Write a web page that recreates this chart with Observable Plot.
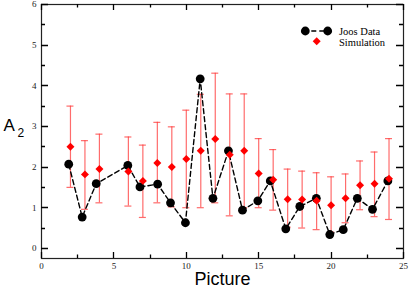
<!DOCTYPE html>
<html><head><meta charset="utf-8">
<script src="https://cdn.jsdelivr.net/npm/d3@7"></script>
<script src="https://cdn.jsdelivr.net/npm/@observablehq/plot@0.6"></script>
<style>html,body{margin:0;padding:0;background:#fff}svg{display:block}</style>
</head><body><div id="chart"></div>
<script>
// Simulation (red diamonds with error bars)
const picture = [2,3,4,6,7,8,9,10,11,12,13,14,15,16,17,18,19,20,21,22,23,24];
const simY  = [2.50,1.82,1.95,1.89,1.66,2.10,2.00,2.20,2.40,2.69,2.30,2.40,1.84,1.69,1.21,1.20,1.17,1.06,1.23,1.55,1.59,1.71];
const errHi = [3.50,2.65,2.81,2.74,2.54,3.10,2.99,3.40,3.79,4.31,3.80,3.80,2.70,2.43,1.95,1.90,1.86,1.76,1.83,2.15,2.37,2.70];
const errLo = [1.50,0.96,1.12,1.04,0.76,1.12,1.02,1.00,1.00,1.12,0.80,1.00,1.00,0.94,0.52,0.50,0.46,0.40,0.63,0.95,0.78,0.71];
// Joos data (black circles, dashed line)
const joosX = [1.88,2.81,3.78,5.96,6.80,8.02,8.91,9.94,10.96,11.84,12.91,13.88,14.94,15.80,16.87,17.84,18.98,19.91,20.84,21.81,22.86,23.92];
const joosY = [2.07,0.77,1.59,2.04,1.51,1.58,1.12,0.63,4.17,1.23,2.40,0.94,1.17,1.66,0.48,1.03,1.23,0.34,0.46,1.23,0.96,1.66];
// ticks
const xTicks = [0,5,10,15,20,25];
const xMinor = [2.5,7.5,12.5,17.5,22.5];
const yTicks = [0,1,2,3,4,5,6];
const yMinor = [0.5,1.5,2.5,3.5,4.5,5.5];
const seriesNames = ["Joos Data","Simulation"];

const sim = picture.map((x,i)=>({x, y: simY[i], lo: errLo[i], hi: errHi[i]}));
const joos = joosX.map((x,i)=>({x, y: joosY[i]}));

const W = 409, H = 289, mL = 41, mR = 6, mT = 4, mB = 31;
const serif = "'Liberation Serif','Times New Roman',serif";
const sans = "'Liberation Sans',Arial,sans-serif";
const errColor = "#ff3b3b";

const chart = Plot.plot({
  width: W, height: H,
  marginLeft: mL, marginRight: mR, marginTop: mT, marginBottom: mB,
  style: {background: "#fff", fontFamily: serif, fontSize: "9px", color: "#222"},
  x: {domain: [0, 25]},
  y: {domain: [-0.25, 6]},
  marks: [
    Plot.ruleX(sim, {x: "x", y1: "lo", y2: "hi", stroke: errColor, strokeOpacity: 0.75, strokeWidth: 1.2}),
    Plot.ruleY(sim, {y: "hi", x1: "x", x2: "x", insetLeft: -3.5, insetRight: -3.5, stroke: errColor, strokeOpacity: 0.75, strokeWidth: 1.2}),
    Plot.ruleY(sim, {y: "lo", x1: "x", x2: "x", insetLeft: -3.5, insetRight: -3.5, stroke: errColor, strokeOpacity: 0.75, strokeWidth: 1.2}),
    Plot.line(joos, {x: "x", y: "y", stroke: "black", strokeWidth: 1.4, strokeDasharray: "5,3"}),
    Plot.dot(joos, {x: "x", y: "y", r: 4.4, fill: "black"}),
    Plot.dot(sim, {x: "x", y: "y", symbol: "diamond2", r: 3.6, fill: "#ff0000"}),
    Plot.frame({stroke: "#222", strokeWidth: 1.2}),
    // tick labels
    Plot.axisX(xTicks, {anchor: "bottom", tickSize: 0, tickPadding: 4, label: null, fontSize: 9, fontFamily: serif}),
    Plot.axisY(yTicks, {anchor: "left", tickSize: 0, tickPadding: 5, label: null, fontSize: 9, fontFamily: serif}),
    // axis titles
    Plot.text(["Picture"], {frameAnchor: "bottom", dy: 26, lineAnchor: "bottom", fontSize: 18, fontFamily: sans, fill: "black"}),
    Plot.text(["A"], {frameAnchor: "left", dx: -38, dy: -1, textAnchor: "start", lineAnchor: "bottom", fontSize: 17, fontFamily: sans, fill: "black"}),
    Plot.text(["2"], {frameAnchor: "left", dx: -24, dy: 5, textAnchor: "start", lineAnchor: "bottom", fontSize: 12, fontFamily: sans, fill: "black"})
  ]
});
document.getElementById("chart").appendChild(chart);

const svg = d3.select(chart);
// inward ticks on all four sides, positioned with Plot's own scales
const xs = chart.scale("x"), ys = chart.scale("y");
const fTop = mT, fBottom = H - mB, fLeft = mL, fRight = W - mR;
const tg = svg.append("g").attr("stroke", "#000").attr("stroke-width", 1.3).attr("fill", "none");
function xt(vals, len) {
  vals.forEach(v => {
    const px = Math.round(xs.apply(v)) + 0.5;
    tg.append("path").attr("d", `M${px},${fBottom}V${fBottom - len}M${px},${fTop}V${fTop + len}`);
  });
}
function yt(vals, len) {
  vals.forEach(v => {
    const py = Math.round(ys.apply(v)) + 0.5;
    tg.append("path").attr("d", `M${fLeft},${py}H${fLeft + len}M${fRight},${py}H${fRight - len}`);
  });
}
xt(xTicks, 6); xt(xMinor, 3.5); yt(yTicks, 7); yt(yMinor, 4);

// legend
const lg = svg.append("g").attr("text-anchor", "start");
lg.append("line").attr("x1", 305.3).attr("x2", 327.7).attr("y1", 31).attr("y2", 31)
  .attr("stroke", "black").attr("stroke-width", 1.4).attr("stroke-dasharray", "5,3").attr("stroke-dashoffset", -6);
[305.3, 327.7].forEach(cx => lg.append("circle").attr("cx", cx).attr("cy", 31).attr("r", 4.4).attr("fill", "black"));
lg.append("path").attr("d", d3.symbol(d3.symbolDiamond2, Math.PI * 3.6 * 3.6)()).attr("transform", "translate(316.7,41.3)").attr("fill", "#ff0000");
lg.append("text").attr("x", 339).attr("y", 34.5).attr("font-family", serif).attr("font-size", 10.5).attr("fill", "black").attr("text-anchor", "start").text(seriesNames[0]);
lg.append("text").attr("x", 339).attr("y", 45.5).attr("font-family", serif).attr("font-size", 10.5).attr("fill", "black").attr("text-anchor", "start").text(seriesNames[1]);
</script>
</body></html>
